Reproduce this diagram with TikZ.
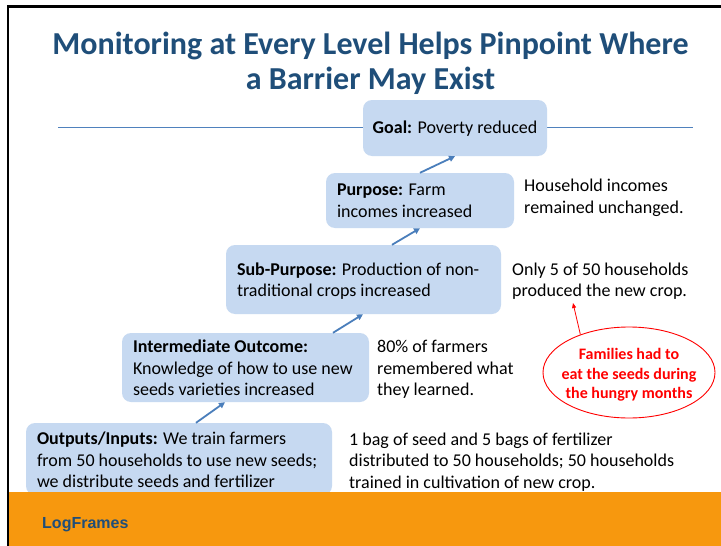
\documentclass[tikz,border=0pt]{standalone}
\usepackage{fontspec}
\setmainfont{Carlito}
\newfontfamily\arialf{Liberation Sans}
\usetikzlibrary{arrows.meta,shapes.geometric}
\definecolor{titleblue}{HTML}{1F4E79}
\definecolor{boxblue}{HTML}{C6D9F1}
\definecolor{arrowblue}{HTML}{4A7EBB}
\definecolor{ruleblue}{HTML}{4F81BD}
\definecolor{bandorange}{HTML}{F7980E}
\definecolor{alertred}{HTML}{FF0000}
\tikzset{
  lvlbox/.style={fill=boxblue, draw=none, rounded corners=9pt, inner sep=0pt},
  lvltext/.style={anchor=west, inner sep=0pt, align=left, font=\fontsize{18}{21.6}\selectfont},
  sidetext/.style={anchor=west, inner sep=0pt, align=left, font=\fontsize{18}{21.6}\selectfont},
  uparrow/.style={draw=arrowblue, line width=1.8pt, -{Triangle[length=6pt,width=6pt]}},
  redarrow/.style={draw=alertred, line width=0.8pt, -{Triangle[length=5pt,width=4pt]}},
}
\begin{document}
\begin{tikzpicture}[x=1pt,y=-1pt]
\useasboundingbox (0,0) rectangle (721,546);
\fill[white] (0,0) rectangle (721,546);
% title
\node[font=\fontsize{32}{35}\selectfont\bfseries, text=titleblue, align=center, inner sep=0pt] (title) at (370.5,63) {Monitoring at Every Level Helps Pinpoint Where\\a Barrier May Exist};
% horizontal rule
\coordinate (ruleL) at (58,127);
\coordinate (ruleR) at (693,127);
\draw[ruleblue, line width=1pt] (ruleL) -- (ruleR);
% boxes
\node[lvlbox, minimum width=184pt, minimum height=56pt] (goal) at (455,128) {};
\node[lvlbox, minimum width=188pt, minimum height=55pt] (purpose) at (420,200.5) {};
\node[lvlbox, minimum width=275pt, minimum height=69pt] (sub) at (363.5,279.5) {};
\node[lvlbox, minimum width=247pt, minimum height=69pt] (inter) at (245.5,367.5) {};
\node[lvlbox, minimum width=306pt, minimum height=72pt] (outputs) at (179,459) {};
% box texts
\node[lvltext, anchor=center] (goaltxt) at ([yshift=-0.5pt]goal.center) {\textbf{Goal:} Poverty reduced};
\node[lvltext] (purposetxt) at ([xshift=11pt,yshift=-0.5pt]purpose.west) {\textbf{Purpose:} Farm\\incomes increased};
\node[lvltext] (subtxt) at ([xshift=11pt,yshift=-1.5pt]sub.west) {\textbf{Sub-Purpose:} Production of non-\\traditional crops increased};
\node[lvltext] (intertxt) at ([xshift=11pt,yshift=-0.5pt]inter.west) {\textbf{Intermediate Outcome:}\\Knowledge of how to use new\\seeds varieties increased};
\node[lvltext] (outputstxt) at ([xshift=11pt,yshift=-1pt]outputs.west) {\textbf{Outputs/Inputs:} We train farmers\\from 50 households to use new seeds;\\we distribute seeds and fertilizer};
% side texts
\node[sidetext] (hh) at (524,198) {Household incomes\\remained unchanged.};
\node[sidetext] (only) at (512,281) {Only 5 of 50 households\\produced the new crop.};
\node[sidetext] (eighty) at (377,369.5) {80\% of farmers\\remembered what\\they learned.};
\node[sidetext] (bag) at (349,462) {1 bag of seed and 5 bags of fertilizer\\distributed to 50 households; 50 households\\trained in cultivation of new crop.};
% blue arrows
\draw[uparrow] ([xshift=17pt]outputs.north) -- ([xshift=-20.5pt]inter.south);
\draw[uparrow] ([xshift=87.5pt]inter.north) -- ([xshift=-0.5pt]sub.south);
\draw[uparrow] ([xshift=28.5pt]sub.north) -- (purpose.south);
\draw[uparrow] (purpose.north) -- (goal.south);
% ellipse
\node[ellipse, draw=alertred, line width=0.9pt, fill=white, minimum width=172pt, minimum height=91pt, inner sep=0pt] (fam) at (629,372.5) {};
\node[inner sep=0pt, text=alertred, align=center, font=\fontsize{16}{19.5}\selectfont\bfseries] (famtxt) at (629,375) {Families had to\\eat the seeds during\\the hungry months};
\coordinate (redtip) at (573,303);
\draw[redarrow] (fam.142) -- (redtip);
% footer band
\fill[bandorange] (9,492) rectangle (721,546);
\node[anchor=base west, inner sep=0pt, font=\arialf\fontsize{16}{19}\selectfont\bfseries, text=titleblue] (foot) at (42,528) {LogFrames};
% frame lines
\draw[black, line width=2.4pt] (8,546) -- (8,6.5) -- (721,6.5);
\end{tikzpicture}
\end{document}
